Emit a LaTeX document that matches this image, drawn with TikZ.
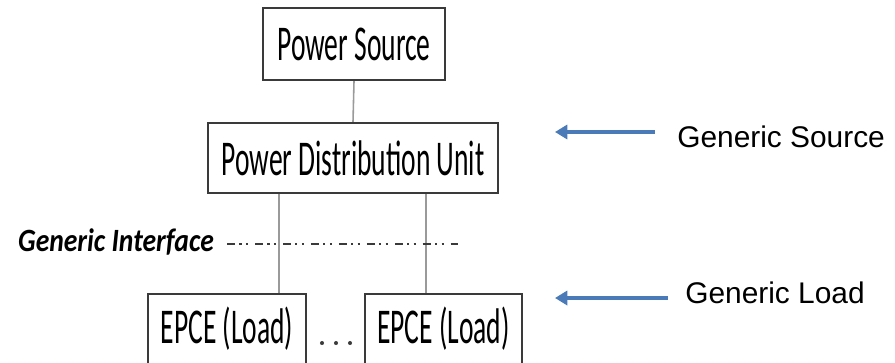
\documentclass[tikz,border=0pt]{standalone}
\usepackage{fontspec}
\setmainfont{Liberation Sans}
\newfontfamily\boxfont[FakeStretch=0.55]{Carlito}
\newfontfamily\ifacefont[FakeStretch=0.85]{Carlito}
\usetikzlibrary{arrows.meta}
\definecolor{boxline}{HTML}{3A3A3A}
\definecolor{wire}{HTML}{9A9A9A}
\definecolor{arrowblue}{HTML}{4A7AB8}
\tikzset{
  unit/.style={draw=boxline, line width=1.3pt, inner sep=0pt,
    font=\boxfont\fontsize{28.5}{30}\selectfont},
  wireline/.style={draw=wire, line width=0.9pt},
  tag/.style={inner sep=0pt, anchor=west, font=\fontsize{17}{20}\selectfont},
  pointer/.style={draw=arrowblue, line width=2.3pt,
    -{Triangle[length=7pt,width=8pt]}, shorten <=0.44cm}
}
\begin{document}
\begin{tikzpicture}[x=0.02cm, y=-0.02cm]
  \useasboundingbox (0,0) rectangle (895,362);
  % blocks
  \node[unit, minimum width=3.64cm, minimum height=1.44cm] (ps) at (354,44) {Power Source};
  \node[unit, minimum width=5.8cm, minimum height=1.4cm] (pdu) at (353,158) {Power Distribution Unit};
  \node[unit, minimum width=3.16cm, minimum height=1.4cm] (loadA) at (227,329) {EPCE (Load)};
  \node[unit, minimum width=3.14cm, minimum height=1.4cm] (loadB) at (443.5,329) {EPCE (Load)};
  % wires
  \coordinate (tapA) at (279,0);
  \coordinate (tapB) at (426,0);
  \draw[wireline] (ps.south) -- (pdu.north);
  \draw[wireline] (pdu.south -| tapA) -- (loadA.north -| tapA);
  \draw[wireline] (pdu.south -| tapB) -- (loadB.north -| tapB);
  % dots between loads
  \foreach \dx in {322,336,350}
    \fill[boxline] (\dx,343) circle[radius=1.15pt];
  % interface line
  \node[inner sep=0pt, font=\ifacefont\bfseries\itshape\fontsize{18.5}{20}\selectfont] (iface) at (116,242) {Generic Interface};
  \coordinate (ifaceEnd) at (458,244);
  \draw[draw=boxline, line width=1.3pt,
    dash pattern=on 4.5pt off 2.5pt on 1.2pt off 2.5pt on 1.2pt off 4pt,
    shorten <=0.26cm] (iface.east |- ifaceEnd) -- (ifaceEnd);
  % labels
  \node[tag] (srcTag) at (677,137) {Generic Source};
  \node[tag] (loadTag) at (685,293) {Generic Load};
  \coordinate (srcTip) at (555,132);
  \coordinate (loadTip) at (555,298);
  \draw[pointer] (srcTag.west |- srcTip) -- (srcTip);
  \draw[pointer, shorten <=0.34cm] (loadTag.west |- loadTip) -- (loadTip);
\end{tikzpicture}
\end{document}
